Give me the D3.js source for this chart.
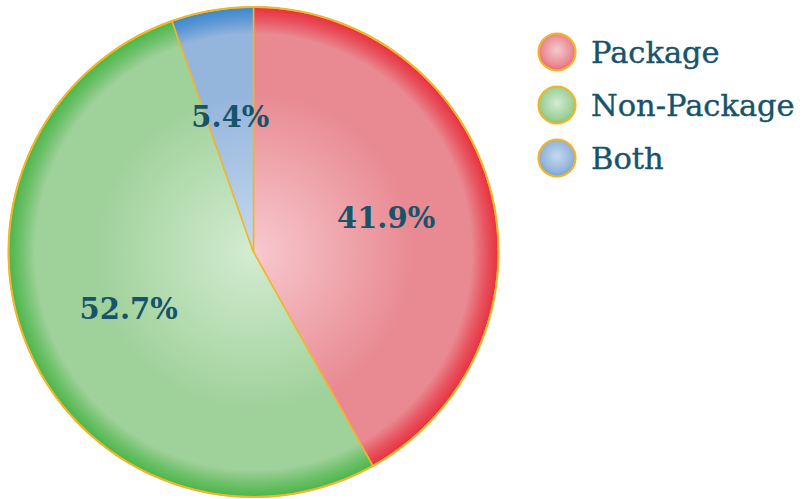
<!DOCTYPE html>
<html>
<head>
<meta charset="utf-8">
<script src="https://cdn.jsdelivr.net/npm/d3@7"></script>
<style>
  body { margin: 0; background: #fff; }
</style>
</head>
<body>
<script>
var categories = ["Package", "Non-Package", "Both"],
    values = [41.9, 52.7, 5.4],
    labels = ["41.9%", "52.7%", "5.4%"];

var width = 805,
    height = 499,
    cx = 253.5,
    cy = 252,
    radius = 245,
    textColor = "#17536a",
    outline = "#f2b52a";

// light centre, base colour, dark rim
var shades = [
  {light: "#f7c9cf", base: "#e98a92", rim: "#e8303f"},
  {light: "#d3ecd1", base: "#9fd19a", rim: "#4cb64a"},
  {light: "#c4d9ef", base: "#94b5dc", rim: "#3a87cf"}
];

var svg = d3.select("body").append("svg")
  .attr("width", width)
  .attr("height", height);

var defs = svg.append("defs");

shades.forEach(function(s, i) {
  var g = defs.append("radialGradient")
    .attr("id", "slice" + i)
    .attr("gradientUnits", "userSpaceOnUse")
    .attr("cx", 0).attr("cy", 0).attr("r", radius);
  g.append("stop").attr("offset", "0%").attr("stop-color", s.light);
  g.append("stop").attr("offset", "65%").attr("stop-color", s.base);
  g.append("stop").attr("offset", "89%").attr("stop-color", s.base);
  g.append("stop").attr("offset", "95%").attr("stop-color", d3.interpolateRgb(s.base, s.rim)(0.6));
  g.append("stop").attr("offset", "100%").attr("stop-color", s.rim);

  var lg = defs.append("radialGradient")
    .attr("id", "dot" + i)
    .attr("cx", "50%").attr("cy", "45%").attr("r", "55%");
  lg.append("stop").attr("offset", "0%").attr("stop-color", s.light);
  lg.append("stop").attr("offset", "75%").attr("stop-color", s.base);
  lg.append("stop").attr("offset", "100%").attr("stop-color", d3.interpolateRgb(s.base, s.rim)(0.4));
});

var pie = d3.pie().sort(null).value(function(d) { return d; });
var arcs = pie(values);

var arc = d3.arc().innerRadius(0).outerRadius(radius);
var labelArc = d3.arc().innerRadius(137).outerRadius(137);

var g = svg.append("g")
  .attr("transform", "translate(" + cx + "," + cy + ")");

g.selectAll("path.slice")
  .data(arcs)
  .enter()
    .append("path")
    .attr("class", "slice")
    .attr("d", arc)
    .style("fill", function(d, i) { return "url(#slice" + i + ")"; })
    .style("stroke", outline)
    .style("stroke-width", 1.5)
    .style("stroke-linejoin", "round");

g.append("circle")
  .attr("r", radius)
  .style("fill", "none")
  .style("stroke", outline)
  .style("stroke-width", 2);

g.selectAll("text.pct")
  .data(arcs)
  .enter()
    .append("text")
    .attr("class", "pct")
    .attr("transform", function(d) { return "translate(" + labelArc.centroid(d) + ")"; })
    .attr("text-anchor", "middle")
    .attr("dy", "0.36em")
    .style("font-family", "'DejaVu Serif', serif")
    .style("font-weight", "bold")
    .style("font-size", "29px")
    .style("fill", textColor)
    .text(function(d, i) { return labels[i]; });

// legend
var legend = svg.selectAll("g.legend")
  .data(categories)
  .enter()
    .append("g")
    .attr("class", "legend")
    .attr("transform", function(d, i) { return "translate(557," + (52 + i * 53) + ")"; });

legend.append("circle")
  .attr("r", 18.5)
  .style("fill", function(d, i) { return "url(#dot" + i + ")"; })
  .style("stroke", outline)
  .style("stroke-width", 2.2);

legend.append("text")
  .attr("x", 34)
  .attr("dy", "0.36em")
  .style("font-family", "'DejaVu Serif', serif")
  .style("font-size", "30.5px")
  .style("stroke", textColor)
  .style("stroke-width", 0.4)
  .style("fill", textColor)
  .text(function(d) { return d; });
</script>
</body>
</html>
